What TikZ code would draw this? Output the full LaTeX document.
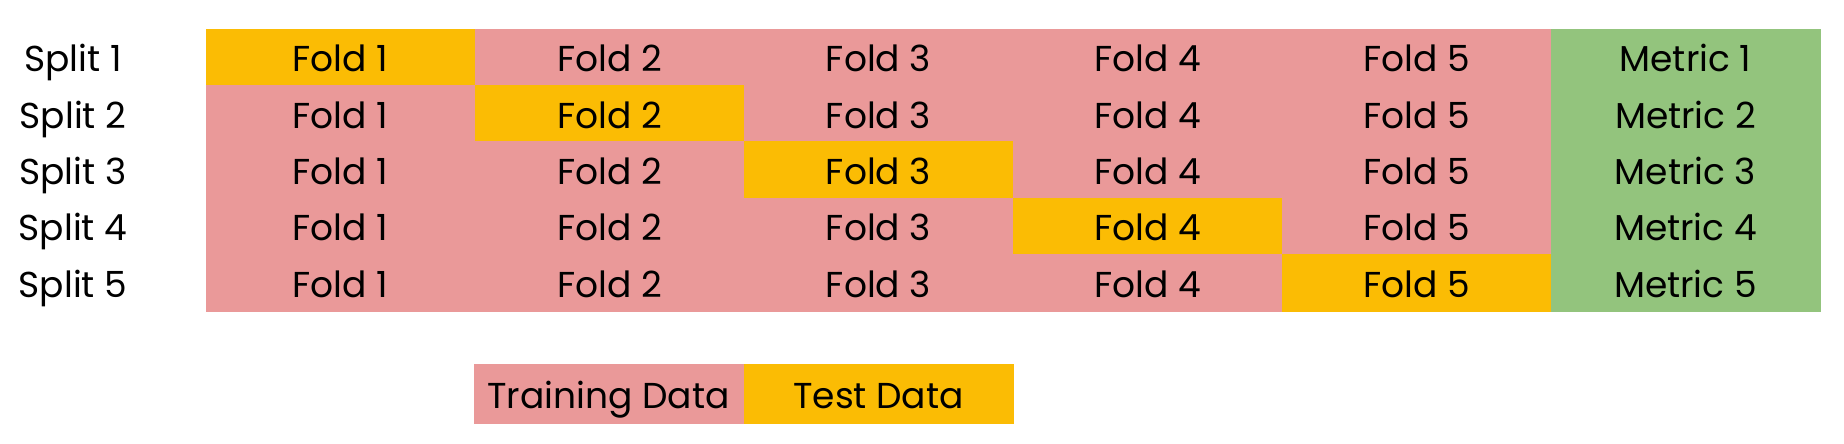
\documentclass[tikz,border=0pt]{standalone}
\usepackage{fontspec}
\setmainfont{Poppins}
\definecolor{trainred}{HTML}{EA9999}
\definecolor{testyellow}{HTML}{FBBC04}
\definecolor{metricgreen}{HTML}{93C47D}

\begin{document}
\begin{tikzpicture}[x=0.5pt,y=-0.5pt,font=\fontsize{18}{20}\selectfont,
  cell/.style={minimum width=134.5pt,minimum height=28.2pt,inner sep=0pt,
    text height=14.3pt,text depth=0pt},
  train/.style={cell,fill=trainred,draw=trainred},
  test/.style={cell,fill=testyellow,draw=testyellow},
  metric/.style={cell,fill=metricgreen,draw=metricgreen},
  splitlabel/.style={inner sep=0pt,text height=14.3pt,text depth=0pt}]

\useasboundingbox (0,0) rectangle (1844,444);

% Split labels (left column)
\node[splitlabel] (s1) at (73,57.5) {Split 1};
\node[splitlabel] (s2) at (73,113.8) {Split 2};
\node[splitlabel] (s3) at (73,170.1) {Split 3};
\node[splitlabel] (s4) at (73,226.4) {Split 4};
\node[splitlabel] (s5) at (73,282.7) {Split 5};

% Split 1
\node[test] (f11) at (340.5,57.5) {Fold 1};
\node[train] (f12) at (609.5,57.5) {Fold 2};
\node[train] (f13) at (878.5,57.5) {Fold 3};
\node[train] (f14) at (1147.5,57.5) {Fold 4};
\node[train] (f15) at (1416.5,57.5) {Fold 5};
\node[metric] (m1) at (1685.5,57.5) {Metric 1};

% Split 2
\node[train] (f21) at (340.5,113.8) {Fold 1};
\node[test] (f22) at (609.5,113.8) {Fold 2};
\node[train] (f23) at (878.5,113.8) {Fold 3};
\node[train] (f24) at (1147.5,113.8) {Fold 4};
\node[train] (f25) at (1416.5,113.8) {Fold 5};
\node[metric] (m2) at (1685.5,113.8) {Metric 2};

% Split 3
\node[train] (f31) at (340.5,170.1) {Fold 1};
\node[train] (f32) at (609.5,170.1) {Fold 2};
\node[test] (f33) at (878.5,170.1) {Fold 3};
\node[train] (f34) at (1147.5,170.1) {Fold 4};
\node[train] (f35) at (1416.5,170.1) {Fold 5};
\node[metric] (m3) at (1685.5,170.1) {Metric 3};

% Split 4
\node[train] (f41) at (340.5,226.4) {Fold 1};
\node[train] (f42) at (609.5,226.4) {Fold 2};
\node[train] (f43) at (878.5,226.4) {Fold 3};
\node[test] (f44) at (1147.5,226.4) {Fold 4};
\node[train] (f45) at (1416.5,226.4) {Fold 5};
\node[metric] (m4) at (1685.5,226.4) {Metric 4};

% Split 5
\node[train] (f51) at (340.5,282.7) {Fold 1};
\node[train] (f52) at (609.5,282.7) {Fold 2};
\node[train] (f53) at (878.5,282.7) {Fold 3};
\node[train] (f54) at (1147.5,282.7) {Fold 4};
\node[test] (f55) at (1416.5,282.7) {Fold 5};
\node[metric] (m5) at (1685.5,282.7) {Metric 5};

% Legend
\node[train,minimum height=29.4pt] (legtrain) at (608.5,393.7) {Training Data};
\node[test,minimum height=29.4pt] (legtest) at (878.5,393.7) {Test Data};

\end{tikzpicture}
\end{document}
